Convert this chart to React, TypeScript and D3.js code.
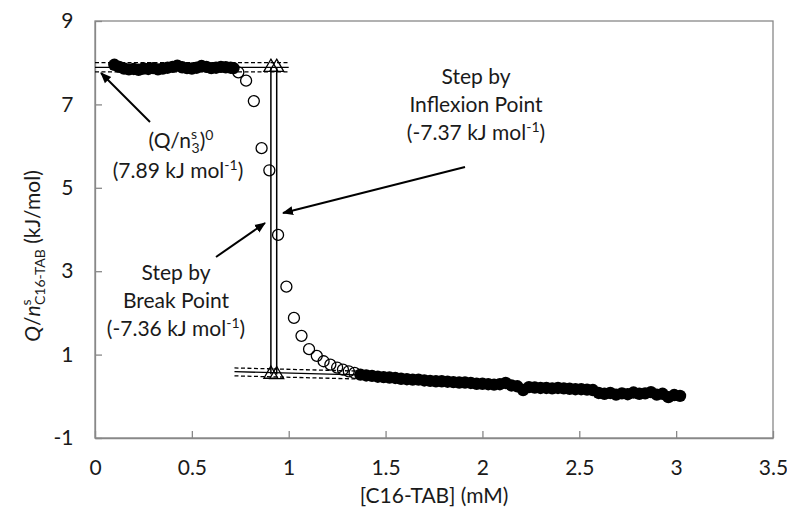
import React, { useEffect, useRef } from "react";
import * as d3 from "d3";

const xTicks = [0, 0.5, 1, 1.5, 2, 2.5, 3, 3.5];
const yTicks = [-1, 1, 3, 5, 7, 9];

// filled points, plateau before the step
const preStep: [number, number][] = [
  [0.1, 7.95], [0.125, 7.9], [0.15, 7.86], [0.175, 7.84], [0.2, 7.85], [0.225, 7.83],
  [0.25, 7.86], [0.275, 7.85], [0.3, 7.87], [0.325, 7.84], [0.35, 7.86], [0.375, 7.88],
  [0.4, 7.9], [0.425, 7.93], [0.45, 7.89], [0.475, 7.87], [0.5, 7.86], [0.525, 7.88],
  [0.55, 7.92], [0.575, 7.9], [0.6, 7.87], [0.625, 7.88], [0.65, 7.9], [0.675, 7.89],
  [0.7, 7.88], [0.715, 7.87],
];

// open points, the transition
const transition: [number, number][] = [
  [0.74, 7.77], [0.78, 7.57], [0.82, 7.08], [0.86, 5.95], [0.9, 5.42], [0.945, 3.87],
  [0.988, 2.63], [1.027, 1.88], [1.066, 1.45], [1.105, 1.13], [1.145, 0.97], [1.18, 0.84],
  [1.215, 0.76], [1.25, 0.69], [1.28, 0.64], [1.31, 0.6], [1.34, 0.56],
];

// filled points, plateau after the step
const postStep: [number, number][] = [
  [1.37, 0.52], [1.4, 0.5], [1.43, 0.49], [1.46, 0.47], [1.49, 0.46], [1.52, 0.45],
  [1.55, 0.44], [1.58, 0.42], [1.61, 0.41], [1.64, 0.4], [1.67, 0.4], [1.7, 0.38],
  [1.73, 0.37], [1.76, 0.36], [1.79, 0.36], [1.82, 0.35], [1.85, 0.34], [1.88, 0.33],
  [1.91, 0.33], [1.94, 0.32], [1.97, 0.3], [2.0, 0.3], [2.03, 0.29], [2.06, 0.28],
  [2.09, 0.29], [2.12, 0.32], [2.15, 0.26], [2.18, 0.24], [2.21, 0.15], [2.24, 0.22],
  [2.27, 0.21], [2.3, 0.2], [2.33, 0.2], [2.36, 0.19], [2.39, 0.2], [2.42, 0.19],
  [2.45, 0.18], [2.48, 0.17], [2.51, 0.17], [2.54, 0.16], [2.57, 0.15], [2.6, 0.08],
  [2.63, 0.06], [2.66, 0.08], [2.69, 0.04], [2.72, 0.07], [2.75, 0.05], [2.78, 0.09],
  [2.81, 0.06], [2.84, 0.07], [2.87, 0.1], [2.9, 0.04], [2.93, 0.06], [2.96, -0.02],
  [2.99, 0.03], [3.02, 0.01],
];

// fitted baselines (solid) and their confidence band (dashed)
const upperFit: [number, number][] = [[0, 7.89], [1.0, 7.89]];
const lowerFit: [number, number][] = [[0.72, 0.59], [1.4, 0.51]];
const upperBand = [0.11, -0.11];
const lowerBand = [0.09, -0.1];

// step positions: break point, inflexion point
const stepX = [0.908, 0.938];
const stepTop = [7.89, 7.89];
const stepBottom = [0.53, 0.52];

const W = 787;
const H = 511;
const FONT = "Lato, 'Open Sans', sans-serif";
const FS = "21px";
const SUB = "14px";

export default function App() {
  const svgRef = useRef<SVGSVGElement>(null);

  useEffect(() => {
    const svg = d3.select(svgRef.current);
    svg.selectAll("*").remove();

    const x = d3.scaleLinear().domain([0, 3.5]).range([95, 773]);
    const y = d3.scaleLinear().domain([-1, 9]).range([438, 21]);

    svg.append("rect").attr("width", W).attr("height", H).attr("fill", "#fff");

    const defs = svg.append("defs");
    defs
      .append("marker")
      .attr("id", "head")
      .attr("markerUnits", "userSpaceOnUse")
      .attr("viewBox", "0 -5 11 10")
      .attr("refX", 10)
      .attr("refY", 0)
      .attr("markerWidth", 11)
      .attr("markerHeight", 10)
      .attr("orient", "auto")
      .append("path")
      .attr("d", "M0,-4.5L11,0L0,4.5Z")
      .attr("fill", "#000");

    // frame
    svg
      .append("rect")
      .attr("x", x(0))
      .attr("y", y(9))
      .attr("width", x(3.5) - x(0))
      .attr("height", y(-1) - y(9))
      .attr("fill", "none")
      .attr("stroke", "#888")
      .attr("stroke-width", 1.3);

    const xAxis = svg
      .append("g")
      .attr("transform", `translate(0,${y(-1)})`)
      .call(
        d3
          .axisBottom(x)
          .tickValues(xTicks)
          .tickSizeInner(-7)
          .tickSizeOuter(0)
          .tickPadding(22)
          .tickFormat((d) => String(d))
      );
    const yAxis = svg
      .append("g")
      .attr("transform", `translate(${x(0)},0)`)
      .call(
        d3
          .axisLeft(y)
          .tickValues(yTicks)
          .tickSizeInner(-7)
          .tickSizeOuter(0)
          .tickPadding(21.5)
          .tickFormat((d) => String(d))
      );
    [xAxis, yAxis].forEach((g) => {
      g.select(".domain").attr("stroke", "#888").attr("stroke-width", 1.3);
      g.selectAll(".tick line").attr("stroke", "#888").attr("stroke-width", 1.3);
      g.selectAll(".tick text")
        .attr("fill", "#1a1a1a")
        .style("font-family", FONT)
        .style("font-size", FS);
    });

    // axis titles
    svg
      .append("text")
      .attr("x", 434)
      .attr("y", 503)
      .attr("text-anchor", "middle")
      .style("font-family", FONT)
      .style("font-size", FS)
      .attr("fill", "#1a1a1a")
      .text("[C16-TAB] (mM)");

    const yl = svg
      .append("text")
      .attr("transform", "translate(40,256) rotate(-90)")
      .attr("text-anchor", "middle")
      .style("font-family", FONT)
      .style("font-size", FS)
      .attr("fill", "#1a1a1a");
    yl.append("tspan").style("font-style", "italic").text("Q");
    yl.append("tspan").text("/");
    yl.append("tspan").style("font-style", "italic").text("n");
    yl.append("tspan").attr("dy", -9).style("font-size", SUB).text("s");
    yl.append("tspan").attr("dx", -5.5).attr("dy", 14).style("font-size", SUB).text("C16-TAB");
    yl.append("tspan").attr("dy", -5).text(" (kJ/mol)");

    const line = d3
      .line<[number, number]>()
      .x((d) => x(d[0]))
      .y((d) => y(d[1]));

    // fit lines
    const fits: [[number, number][], number[]][] = [
      [upperFit, upperBand],
      [lowerFit, lowerBand],
    ];
    fits.forEach(([pts, band]) => {
      svg
        .append("path")
        .attr("d", line(pts))
        .attr("fill", "none")
        .attr("stroke", "#000")
        .attr("stroke-width", 1.3);
      band.forEach((off) => {
        svg
          .append("path")
          .attr("d", line(pts.map((p) => [p[0], p[1] + off] as [number, number])))
          .attr("fill", "none")
          .attr("stroke", "#000")
          .attr("stroke-width", 1.3)
          .attr("stroke-dasharray", "4,2.5");
      });
    });

    // vertical step lines
    stepX.forEach((sx, i) => {
      svg
        .append("line")
        .attr("x1", x(sx))
        .attr("x2", x(sx))
        .attr("y1", y(stepTop[i]))
        .attr("y2", y(stepBottom[i]))
        .attr("stroke", "#000")
        .attr("stroke-width", 1.5);
    });

    // points
    svg
      .append("g")
      .selectAll("circle")
      .data(transition)
      .join("circle")
      .attr("cx", (d) => x(d[0]))
      .attr("cy", (d) => y(d[1]))
      .attr("r", 5.5)
      .attr("fill", "none")
      .attr("stroke", "#000")
      .attr("stroke-width", 1.3);

    svg
      .append("g")
      .selectAll("circle")
      .data([...preStep, ...postStep])
      .join("circle")
      .attr("cx", (d) => x(d[0]))
      .attr("cy", (d) => y(d[1]))
      .attr("r", 6.2)
      .attr("fill", "#000");

    // triangles at step ends
    const tri = d3.symbol(d3.symbolTriangle, 85);
    const triPts: [number, number][] = [];
    stepX.forEach((sx, i) => {
      triPts.push([sx, stepTop[i]], [sx, stepBottom[i]]);
    });
    svg
      .append("g")
      .selectAll("path")
      .data(triPts)
      .join("path")
      .attr("transform", (d) => `translate(${x(d[0])},${y(d[1])})`)
      .attr("d", tri)
      .attr("fill", "none")
      .attr("stroke", "#000")
      .attr("stroke-width", 1.3);

    // annotations
    const note = (cx: number, cy: number) =>
      svg
        .append("text")
        .attr("x", cx)
        .attr("y", cy)
        .attr("text-anchor", "middle")
        .style("font-family", FONT)
        .style("font-size", FS)
        .attr("fill", "#1a1a1a");

    const a1 = note(181, 148);
    a1.append("tspan").text("(Q/n");
    a1.append("tspan").attr("dy", -9.5).style("font-size", SUB).text("s");
    a1.append("tspan").attr("dx", -5.5).attr("dy", 14).style("font-size", SUB).text("3");
    a1.append("tspan").attr("dy", -4.5).text(")");
    a1.append("tspan").attr("dy", -8).style("font-size", SUB).text("0");

    const a2 = note(178, 178);
    a2.append("tspan").text("(7.89 kJ mol");
    a2.append("tspan").attr("dy", -8).style("font-size", SUB).text("-1");
    a2.append("tspan").attr("dy", 8).text(")");

    const stepNote = (cx: number, y0: number, name: string, val: string) => {
      note(cx, y0).text("Step by");
      note(cx, y0 + 28).text(name);
      const t = note(cx, y0 + 56);
      t.append("tspan").text(`(${val} kJ mol`);
      t.append("tspan").attr("dy", -8).style("font-size", SUB).text("-1");
      t.append("tspan").attr("dy", 8).text(")");
    };
    stepNote(476, 84, "Inflexion Point", "-7.37");
    stepNote(176, 280, "Break Point", "-7.36");

    const arrows = [
      [150, 122, 101, 73],
      [465, 167, 283, 213],
      [216, 257, 265, 223],
    ];
    arrows.forEach(([x1, y1, x2, y2]) => {
      svg
        .append("line")
        .attr("x1", x1)
        .attr("y1", y1)
        .attr("x2", x2)
        .attr("y2", y2)
        .attr("stroke", "#000")
        .attr("stroke-width", 2)
        .attr("marker-end", "url(#head)");
    });
  }, []);

  return (
    <svg
      ref={svgRef}
      width={W}
      height={H}
      style={{ position: "absolute", left: 0, top: 0 }}
    />
  );
}
